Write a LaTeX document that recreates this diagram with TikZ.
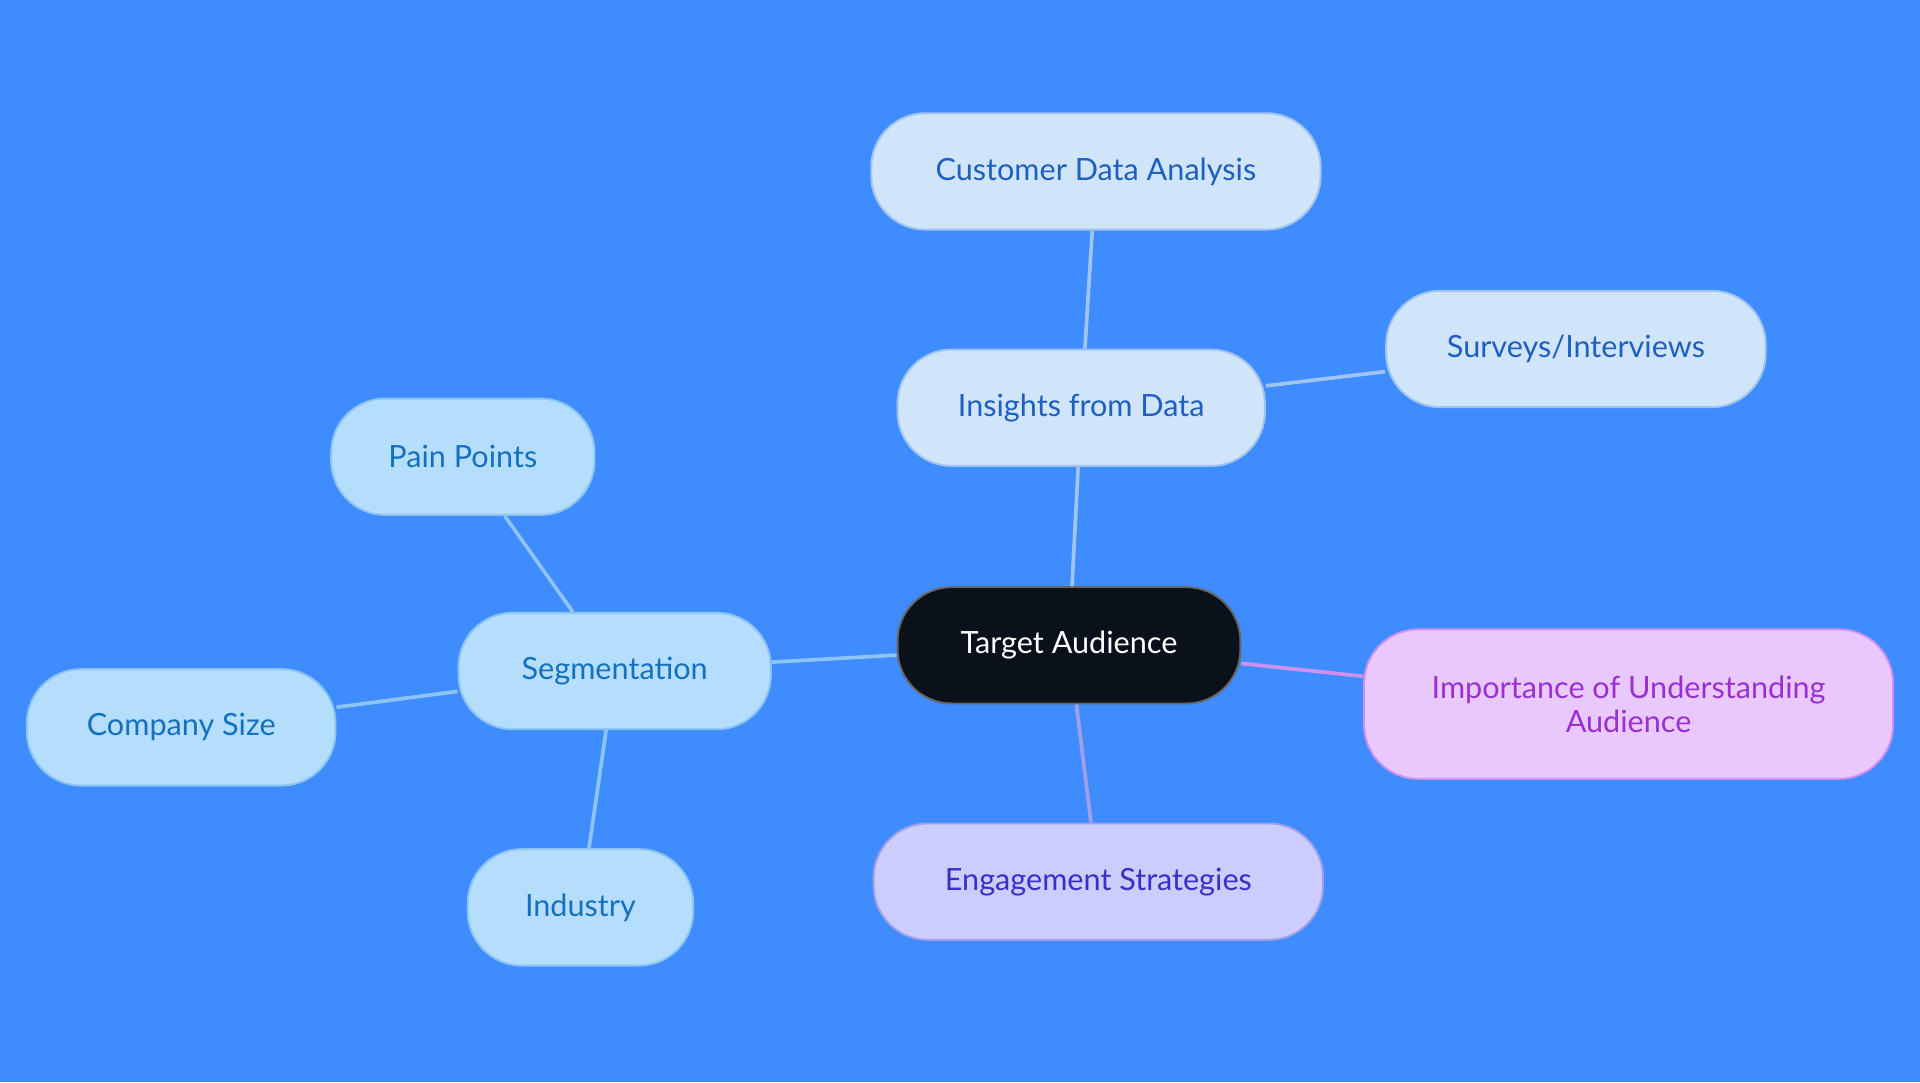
\documentclass[tikz,border=0pt]{standalone}
\usepackage{fontspec}
\setmainfont{Lato}
\begin{document}
\begin{tikzpicture}[x=0.5pt,y=-0.5pt,
 box/.style={rectangle,rounded corners=22pt,line width=0.8pt,minimum height=47.5pt,align=center,font=\fontsize{12.5}{14}\selectfont},
 seg/.style={box,fill=segF,draw=segD,text=segT},
 ins/.style={box,fill=insF,draw=insD,text=insT},
 ln/.style={line width=1.5pt}]
\definecolor{bg}{HTML}{3F8CFE}
\definecolor{taF}{HTML}{0B111A}
\definecolor{segF}{HTML}{B5DEFD}\definecolor{segD}{HTML}{8CC4F4}\definecolor{segT}{HTML}{1470C0}
\definecolor{insF}{HTML}{D0E4FA}\definecolor{insD}{HTML}{A0C4F0}\definecolor{insT}{HTML}{1F5FC0}
\definecolor{engF}{HTML}{CCCCFD}\definecolor{engD}{HTML}{A0A0E8}\definecolor{engT}{HTML}{3A2FC8}
\definecolor{impF}{HTML}{E9C9FD}\definecolor{impD}{HTML}{D090F0}\definecolor{impT}{HTML}{9A30D0}
\fill[bg] (0,0) rectangle (1568,884);
\useasboundingbox (0,0) rectangle (1568,884);
\node[box,fill=taF,draw=black!60,text=white,minimum width=140pt] (ta) at (873,527) {Target Audience};
\node[ins,minimum width=150pt] (ins) at (883,333) {Insights from Data};
\node[ins,minimum width=183.5pt] (cda) at (895,140) {Customer Data Analysis};
\node[ins,minimum width=155pt] (sur) at (1287,285) {Surveys/Interviews};
\node[seg,minimum width=127.5pt] (seg) at (502,548) {Segmentation};
\node[seg,minimum width=107.5pt] (pp) at (378,373) {Pain Points};
\node[seg,minimum width=126pt] (cs) at (148,594) {Company Size};
\node[seg,minimum width=92pt] (ind) at (474,741) {Industry};
\node[box,fill=engF,draw=engD,text=engT,minimum width=183.5pt] (eng) at (897,720) {Engagement Strategies};
\node[box,fill=impF,draw=impD,text=impT,minimum width=216pt,minimum height=61pt] (imp) at (1330,575) {Importance of Understanding\\Audience};
\draw[ln,color=insD] (ta) -- (ins);
\draw[ln,color=insD] (ins) -- (cda);
\draw[ln,color=insD] (ins) -- (sur);
\draw[ln,color=segD] (ta) -- (seg);
\draw[ln,color=segD] (seg) -- (pp);
\draw[ln,color=segD] (seg) -- (cs);
\draw[ln,color=segD] (seg) -- (ind);
\draw[ln,color=engD] (ta) -- (eng);
\draw[ln,color=impD] (ta) -- (imp);
\end{tikzpicture}
\end{document}
